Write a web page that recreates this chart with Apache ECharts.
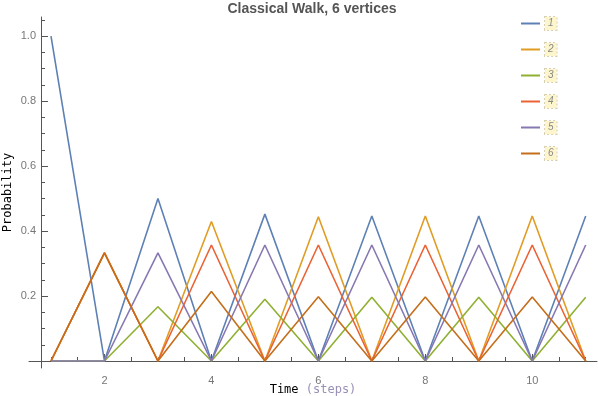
<!DOCTYPE html>
<html>
<head>
<meta charset="utf-8">
<script src="https://cdn.jsdelivr.net/npm/echarts@6/dist/echarts.min.js"></script>
<style>html,body{margin:0;padding:0;background:#fff}#c{width:598px;height:396px}</style>
</head>
<body>
<div id="c"></div>
<script>
var steps = [1, 2, 3, 4, 5, 6, 7, 8, 9, 10, 11];
var seriesNames = ['1', '2', '3', '4', '5', '6'];
var v1 = [1, 0, 0.5, 0, 0.452, 0, 0.446, 0, 0.446, 0, 0.446];
var v2 = [0, 0.333, 0, 0.429, 0, 0.444, 0, 0.446, 0, 0.446, 0];
var v3 = [0, 0, 0.167, 0, 0.190, 0, 0.196, 0, 0.196, 0, 0.196];
var v4 = [0, 0.333, 0, 0.357, 0, 0.357, 0, 0.357, 0, 0.357, 0];
var v5 = [0, 0, 0.333, 0, 0.357, 0, 0.357, 0, 0.357, 0, 0.357];
var v6 = [0, 0.333, 0, 0.214, 0, 0.198, 0, 0.197, 0, 0.197, 0];
var xMajorTicks = [2, 4, 6, 8, 10];
var yMajorTicks = [0.2, 0.4, 0.6, 0.8, 1.0];

var values = [v1, v2, v3, v4, v5, v6];
var colors = ['#5E81B5', '#E19C24', '#8FB032', '#EB6235', '#8778B3', '#C56E1A'];

var xMinor = [];
for (var i = 1; i <= 22; i++) xMinor.push(i * 0.5);
var yMinor = [];
for (var j = 1; j <= 21; j++) yMinor.push(Math.round(j * 5) / 100);

var axisColor = '#555';
var labelStyle = {color: '#777', fontFamily: 'Liberation Sans, Arial, sans-serif', fontSize: 11};

var chart = echarts.init(document.getElementById('c'));
var option = {
  animation: false,
  color: colors,
  title: {
    text: 'Classical Walk, 6 vertices',
    left: 312, top: 2, padding: 0, textAlign: 'center',
    textStyle: {color: '#555', fontSize: 14, fontWeight: 'bold', fontFamily: 'Liberation Sans, Arial, sans-serif'}
  },
  legend: {
    orient: 'vertical', left: 521, top: 16, padding: 0,
    icon: 'rect',
    itemWidth: 19, itemHeight: 2, itemGap: 11,
    data: seriesNames,
    textStyle: {
      color: '#888', fontStyle: 'italic', fontSize: 10,
      fontFamily: 'Liberation Sans, Arial, sans-serif',
      backgroundColor: '#fdf5cc', borderColor: '#d8d0b0', borderWidth: 1, borderType: 'dotted',
      padding: [2, 3, 1, 3]
    }
  },
  grid: {left: 29, right: 1, top: 17, bottom: 28, containLabel: false, outerBoundsMode: 'none'},
  xAxis: [{
    type: 'value', min: 0.5886, max: 11.211, position: 'bottom',
    axisLine: {onZero: true, lineStyle: {color: axisColor, width: 1}},
    axisTick: {inside: true, length: 4, customValues: xMinor, lineStyle: {color: axisColor}},
    axisLabel: Object.assign({customValues: xMajorTicks, margin: 7}, labelStyle),
    splitLine: {show: false},
    name: '{a|Time }{b|(steps)}', nameLocation: 'middle', nameGap: 16, nameMoveOverlap: false,
    nameTextStyle: {
      rich: {
        a: {color: '#000', fontFamily: 'DejaVu Sans Mono, monospace', fontSize: 12},
        b: {color: '#9a8fb8', fontFamily: 'DejaVu Sans Mono, monospace', fontSize: 12}
      }
    }
  }, {
    type: 'value', min: 0.5886, max: 11.211, position: 'bottom',
    axisLine: {show: false, onZero: true},
    axisTick: {inside: true, length: 7, customValues: xMajorTicks, lineStyle: {color: axisColor}},
    axisLabel: {show: false},
    splitLine: {show: false}
  }],
  yAxis: [{
    type: 'value', min: -0.0215, max: 1.0585, offset: -12,
    axisLine: {show: true, onZero: false, lineStyle: {color: axisColor, width: 1}},
    axisTick: {inside: true, length: 4, customValues: yMinor, lineStyle: {color: axisColor}},
    axisLabel: Object.assign({customValues: yMajorTicks, margin: 5, formatter: function (v) { return v.toFixed(1); }}, labelStyle),
    splitLine: {show: false},
    name: 'Probability', nameLocation: 'middle', nameGap: 27, nameRotate: 90, nameMoveOverlap: false,
    nameTextStyle: {color: '#000', fontFamily: 'DejaVu Sans Mono, monospace', fontSize: 12}
  }, {
    type: 'value', min: -0.0215, max: 1.0585, offset: -12, position: 'left',
    axisLine: {show: false, onZero: false},
    axisTick: {inside: true, length: 7, customValues: yMajorTicks, lineStyle: {color: axisColor}},
    axisLabel: {show: false},
    splitLine: {show: false}
  }],
  series: values.map(function (arr, k) {
    return {
      name: seriesNames[k], type: 'line', symbol: 'none', xAxisIndex: 0, yAxisIndex: 0,
      lineStyle: {width: 1.6, color: colors[k]},
      itemStyle: {color: colors[k]},
      data: steps.map(function (s, i) { return [s, arr[i]]; })
    };
  })
};
chart.setOption(option);
</script>
</body>
</html>
